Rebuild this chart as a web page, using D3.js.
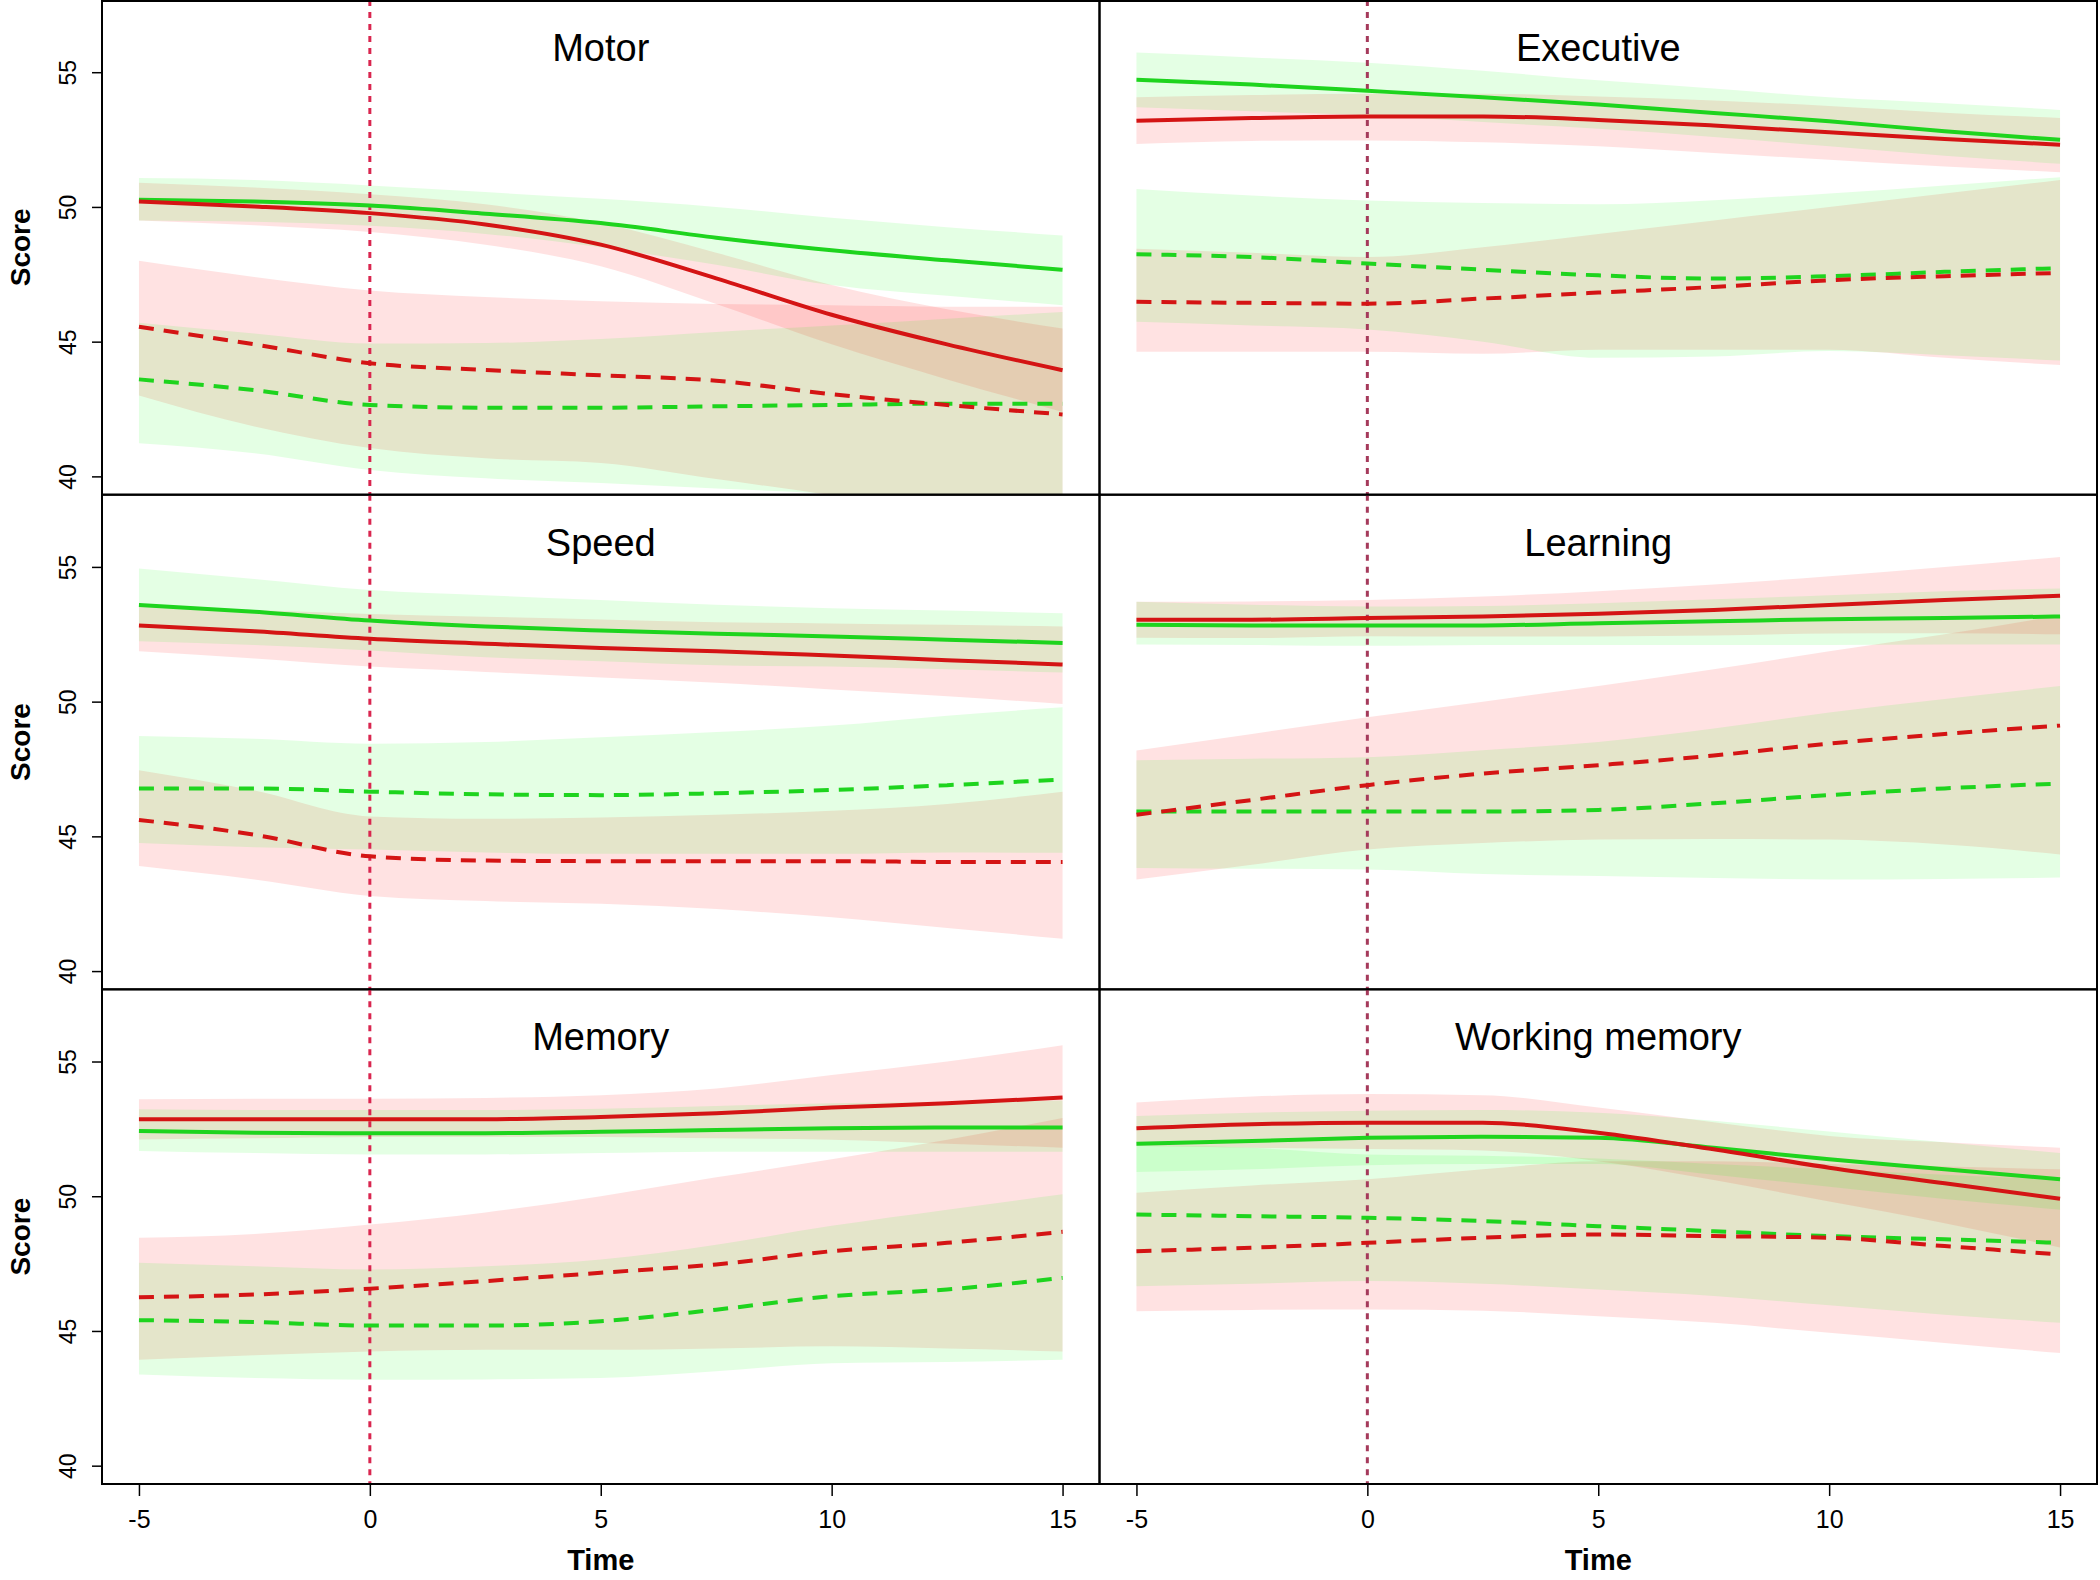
<!DOCTYPE html>
<html>
<head>
<meta charset="utf-8">
<script src="https://cdn.jsdelivr.net/npm/d3@7"></script>
<style>
  body { margin: 0; background: #fff; }
  text { font-family: "Liberation Sans", Arial, sans-serif; fill: #000; }
</style>
</head>
<body>
<script>
var times = [-5, -2.5, 0, 2.5, 5, 7.5, 10, 12.5, 15];
var domains = ["Motor", "Executive", "Speed", "Learning", "Memory", "Working memory"];
var xTicks = [-5, 0, 5, 10, 15];
var yTicks = [40, 45, 50, 55];

// one row per domain (same order as domains)
var greenSolid = [
  [50.27, 50.2, 50.05, 49.75, 49.4, 48.86, 48.39, 48.02, 47.67],
  [54.72, 54.54, 54.31, 54.07, 53.8, 53.49, 53.18, 52.81, 52.49],
  [53.59, 53.34, 53.01, 52.79, 52.64, 52.52, 52.42, 52.3, 52.18],
  [52.85, 52.83, 52.83, 52.83, 52.91, 52.98, 53.06, 53.1, 53.16],
  [52.42, 52.36, 52.34, 52.34, 52.39, 52.46, 52.52, 52.55, 52.55],
  [51.95, 52.05, 52.17, 52.21, 52.17, 51.8, 51.37, 51.0, 50.63]
];
var greenSolidLo = [
  [49.5, 49.45, 49.3, 49.0, 48.5, 47.85, 47.1, 46.7, 46.35],
  [53.7, 53.55, 53.4, 53.15, 52.9, 52.6, 52.25, 51.9, 51.6],
  [52.24, 52.1, 51.9, 51.65, 51.5, 51.35, 51.3, 51.2, 51.08],
  [52.12, 52.1, 52.07, 52.1, 52.1, 52.1, 52.1, 52.12, 52.12],
  [51.68, 51.6, 51.55, 51.55, 51.6, 51.65, 51.65, 51.65, 51.65],
  [50.9, 51.0, 51.15, 51.2, 51.2, 50.8, 50.35, 49.9, 49.5]
];
var greenSolidHi = [
  [51.07, 51.0, 50.8, 50.55, 50.3, 50.0, 49.6, 49.25, 48.94],
  [55.73, 55.55, 55.35, 55.05, 54.7, 54.4, 54.07, 53.85, 53.6],
  [54.94, 54.55, 54.14, 53.95, 53.77, 53.6, 53.47, 53.38, 53.28],
  [53.71, 53.6, 53.53, 53.55, 53.65, 53.8, 53.95, 54.1, 54.2],
  [53.23, 53.2, 53.2, 53.2, 53.25, 53.35, 53.45, 53.5, 53.55],
  [52.98, 53.1, 53.17, 53.2, 53.1, 52.8, 52.4, 52.0, 51.6]
];
var redSolid = [
  [50.2, 50.02, 49.77, 49.35, 48.6, 47.35, 46.0, 44.9, 43.94],
  [53.2, 53.3, 53.36, 53.36, 53.23, 53.02, 52.77, 52.52, 52.31],
  [52.83, 52.61, 52.33, 52.15, 51.99, 51.87, 51.71, 51.54, 51.38],
  [53.04, 53.04, 53.1, 53.16, 53.26, 53.4, 53.59, 53.77, 53.93],
  [52.86, 52.86, 52.86, 52.86, 52.94, 53.08, 53.29, 53.45, 53.66],
  [52.52, 52.67, 52.73, 52.73, 52.36, 51.74, 51.06, 50.48, 49.91]
];
var redSolidLo = [
  [49.5, 49.32, 49.07, 48.6, 47.8, 46.4, 44.9, 43.6, 42.39],
  [52.34, 52.45, 52.47, 52.4, 52.25, 52.0, 51.75, 51.5, 51.29],
  [51.87, 51.6, 51.3, 51.1, 50.9, 50.7, 50.45, 50.2, 49.91],
  [52.37, 52.36, 52.43, 52.42, 52.42, 52.45, 52.53, 52.54, 52.5],
  [52.11, 52.15, 52.2, 52.2, 52.2, 52.15, 52.1, 51.95, 51.8],
  [51.86, 51.8, 51.75, 51.7, 51.3, 50.6, 49.8, 49.0, 48.1]
];
var redSolidHi = [
  [50.9, 50.72, 50.47, 50.1, 49.4, 48.3, 47.1, 46.2, 45.49],
  [54.07, 54.15, 54.2, 54.2, 54.1, 53.95, 53.75, 53.5, 53.3],
  [53.53, 53.4, 53.25, 53.15, 53.05, 52.95, 52.9, 52.85, 52.79],
  [53.71, 53.72, 53.77, 53.9, 54.1, 54.35, 54.65, 55.0, 55.37],
  [53.6, 53.62, 53.62, 53.65, 53.75, 54.0, 54.5, 55.0, 55.6],
  [53.48, 53.7, 53.79, 53.75, 53.29, 52.75, 52.24, 52.0, 51.8]
];
var greenDashed = [
  [43.6, 43.2, 42.65, 42.55, 42.55, 42.6, 42.65, 42.7, 42.7],
  [48.24, 48.14, 47.9, 47.67, 47.46, 47.34, 47.43, 47.59, 47.73],
  [46.78, 46.78, 46.66, 46.56, 46.53, 46.6, 46.72, 46.9, 47.11],
  [45.92, 45.92, 45.92, 45.92, 45.98, 46.23, 46.53, 46.78, 46.96],
  [45.4, 45.33, 45.2, 45.2, 45.36, 45.79, 46.29, 46.54, 46.97],
  [49.32, 49.26, 49.2, 49.08, 48.89, 48.7, 48.52, 48.4, 48.27]
];
var greenDashedLo = [
  [41.23, 40.86, 40.24, 39.93, 39.75, 39.55, 39.35, 39.0, 38.7],
  [45.74, 45.6, 45.45, 45.0, 44.4, 44.45, 44.65, 44.5, 44.3],
  [44.75, 44.6, 44.51, 44.4, 44.35, 44.35, 44.35, 44.4, 44.39],
  [43.83, 43.8, 43.77, 43.6, 43.53, 43.45, 43.4, 43.42, 43.47],
  [43.38, 43.25, 43.19, 43.2, 43.25, 43.5, 43.8, 43.85, 43.93],
  [46.66, 46.75, 46.85, 46.75, 46.54, 46.3, 45.95, 45.6, 45.3]
];
var greenDashedHi = [
  [45.7, 45.3, 44.93, 44.95, 45.1, 45.36, 45.6, 45.85, 46.1],
  [50.67, 50.42, 50.24, 50.15, 50.1, 50.25, 50.5, 50.8, 51.1],
  [48.72, 48.62, 48.44, 48.5, 48.68, 48.87, 49.11, 49.48, 49.79],
  [47.82, 47.88, 47.94, 48.2, 48.5, 49.0, 49.6, 50.1, 50.58],
  [47.53, 47.4, 47.28, 47.4, 47.65, 48.2, 48.9, 49.5, 50.07],
  [51.9, 51.8, 51.55, 51.5, 51.4, 51.2, 51.0, 50.8, 50.6]
];
var redDashed = [
  [45.55, 44.9, 44.2, 43.95, 43.75, 43.55, 43.05, 42.65, 42.3],
  [46.48, 46.44, 46.41, 46.6, 46.82, 47.03, 47.28, 47.43, 47.55],
  [45.61, 45.06, 44.26, 44.1, 44.08, 44.08, 44.08, 44.05, 44.05],
  [45.8, 46.35, 46.9, 47.33, 47.64, 48.0, 48.44, 48.8, 49.11],
  [46.25, 46.35, 46.57, 46.85, 47.16, 47.47, 47.96, 48.27, 48.68],
  [47.96, 48.09, 48.27, 48.46, 48.58, 48.52, 48.46, 48.15, 47.84]
];
var redDashedLo = [
  [43.0, 41.85, 41.05, 40.67, 40.5, 39.9, 39.3, 38.6, 38.0],
  [44.63, 44.63, 44.63, 44.55, 44.7, 44.7, 44.7, 44.4, 44.13],
  [43.9, 43.4, 42.79, 42.6, 42.5, 42.3, 42.0, 41.6, 41.2],
  [43.4, 43.95, 44.51, 44.75, 44.88, 44.9, 44.88, 44.7, 44.33],
  [43.93, 44.1, 44.24, 44.3, 44.3, 44.35, 44.43, 44.35, 44.24],
  [45.73, 45.78, 45.8, 45.75, 45.55, 45.3, 44.93, 44.55, 44.18]
];
var redDashedHi = [
  [48.0, 47.4, 46.9, 46.66, 46.5, 46.4, 46.35, 46.3, 46.3],
  [48.45, 48.3, 48.14, 48.5, 49.0, 49.5, 50.0, 50.5, 51.0],
  [47.45, 46.7, 45.74, 45.65, 45.7, 45.8, 45.95, 46.2, 46.66],
  [48.19, 48.8, 49.42, 50.0, 50.58, 51.2, 51.87, 52.5, 53.2],
  [48.46, 48.6, 48.95, 49.4, 50.0, 50.7, 51.37, 52.1, 52.9],
  [50.13, 50.4, 50.63, 51.0, 51.3, 51.3, 51.2, 51.1, 51.0]
];

var width = 2100, height = 1580;
var colX = [102, 1099.5], colW = 997.5;
var rowY = [0, 494.7, 989.3], rowH = 494.7;

var GREEN = "#1ed41e", RED = "#d41414";
var GREEN_FILL = "rgba(0,255,0,0.105)", RED_FILL = "rgba(255,0,0,0.115)";

// band draw order: red first, then green (gives the khaki overlap)
var bands = [
  {lo: redSolidLo, hi: redSolidHi, fill: RED_FILL},
  {lo: redDashedLo, hi: redDashedHi, fill: RED_FILL},
  {lo: greenSolidLo, hi: greenSolidHi, fill: GREEN_FILL},
  {lo: greenDashedLo, hi: greenDashedHi, fill: GREEN_FILL}
];
var lines = [
  {vals: greenDashed, color: GREEN, dash: "15,10"},
  {vals: redDashed, color: RED, dash: "15,10"},
  {vals: greenSolid, color: GREEN, dash: null},
  {vals: redSolid, color: RED, dash: null}
];

// plain hyphen for negatives, like the original
var fmt = function(d) { return String(d); };

var svg = d3.select("body").append("svg")
    .attr("width", width)
    .attr("height", height);

svg.append("rect").attr("width", width).attr("height", height).attr("fill", "#fff");

domains.forEach(function(name, i) {
  var col = i % 2, row = Math.floor(i / 2);
  var x0 = colX[col], y0 = rowY[row];

  var x = d3.scaleLinear().domain([-5.8, 15.8]).range([x0, x0 + colW]);
  var y = d3.scaleLinear().domain([39.32, 57.68]).range([y0 + rowH, y0]);

  svg.append("clipPath").attr("id", "clip" + i)
    .append("rect")
      .attr("x", x0).attr("y", y0)
      .attr("width", colW).attr("height", rowH);

  var g = svg.append("g").attr("clip-path", "url(#clip" + i + ")");

  var area = function(lo, hi) {
    return d3.area()
      .x(function(d, k) { return x(times[k]); })
      .y0(function(d, k) { return y(lo[k]); })
      .y1(function(d, k) { return y(hi[k]); })
      .curve(d3.curveMonotoneX)(times);
  };

  bands.forEach(function(b) {
    g.append("path")
      .attr("d", area(b.lo[i], b.hi[i]))
      .attr("fill", b.fill)
      .attr("stroke", "none");
  });

  // onset line at time 0
  g.append("line")
    .attr("x1", x(0)).attr("x2", x(0))
    .attr("y1", y0).attr("y2", y0 + rowH)
    .attr("stroke", col == 0 ? "#d9264f" : "#a53a5b")
    .attr("stroke-width", 3)
    .attr("stroke-dasharray", "6,6");

  var line = d3.line()
    .x(function(d, k) { return x(times[k]); })
    .y(function(d) { return y(d); })
    .curve(d3.curveMonotoneX);

  lines.forEach(function(l) {
    g.append("path")
      .attr("d", line(l.vals[i]))
      .attr("fill", "none")
      .attr("stroke", l.color)
      .attr("stroke-width", 4)
      .attr("stroke-dasharray", l.dash);
  });

  // panel title
  svg.append("text")
    .attr("x", x0 + colW / 2)
    .attr("y", y0 + 61)
    .attr("text-anchor", "middle")
    .style("font-size", "38px")
    .text(name);

  // y axis only on the left column
  if (col == 0) {
    var ya = svg.append("g")
      .attr("transform", "translate(" + x0 + ",0)")
      .call(d3.axisLeft(y).tickValues(yTicks).tickSize(10).tickFormat(fmt));
    ya.select(".domain").remove();
    ya.selectAll(".tick line").attr("stroke", "#000").attr("stroke-width", 1.5);
    ya.selectAll(".tick text")
      .attr("x", null).attr("dy", "0.35em")
      .attr("transform", "translate(-34,0) rotate(-90)")
      .attr("text-anchor", "middle")
      .style("font-size", "23px")
      .style("font-family", "'Liberation Sans', Arial, sans-serif")
      .attr("fill", "#222");

    svg.append("text")
      .attr("transform", "translate(30," + (y0 + rowH / 2) + ") rotate(-90)")
      .attr("text-anchor", "middle")
      .style("font-size", "28px")
      .style("font-weight", "bold")
      .text("Score");
  }

  // x axis only on the bottom row
  if (row == 2) {
    var xa = svg.append("g")
      .attr("transform", "translate(0," + (y0 + rowH) + ")")
      .call(d3.axisBottom(x).tickValues(xTicks).tickSize(12).tickPadding(14).tickFormat(fmt));
    xa.select(".domain").remove();
    xa.selectAll(".tick line").attr("stroke", "#000").attr("stroke-width", 1.5);
    xa.selectAll(".tick text")
      .style("font-size", "25px")
      .style("font-family", "'Liberation Sans', Arial, sans-serif")
      .attr("fill", "#000");

    svg.append("text")
      .attr("x", x0 + colW / 2)
      .attr("y", 1570)
      .attr("text-anchor", "middle")
      .style("font-size", "29px")
      .style("font-weight", "bold")
      .text("Time");
  }

  // panel box
  svg.append("rect")
    .attr("x", x0).attr("y", Math.max(y0, 1))
    .attr("width", colW).attr("height", rowH - (y0 == 0 ? 1 : 0))
    .attr("fill", "none")
    .attr("stroke", "#000")
    .attr("stroke-width", 2);
});
</script>
</body>
</html>
